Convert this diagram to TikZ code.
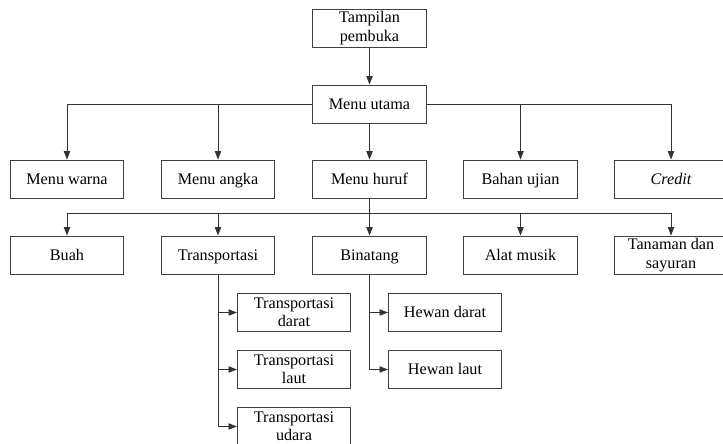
\documentclass[tikz,border=0pt]{standalone}
\usepackage{fontspec}
\setmainfont{Liberation Serif}
\usepackage{tikz}
\usetikzlibrary{positioning, arrows.meta}

\begin{document}
\begin{tikzpicture}[x=0.025cm, y=-0.025cm,
    dasar/.style={draw=black!75, line width=0.6pt, minimum width=2.83cm, minimum height=0.95cm,
        inner sep=0pt, align=center, font=\fontsize{11.5}{13}\selectfont},
    kotak/.style={dasar, text height=10pt, text depth=2.4pt},
    dua/.style={dasar},
    panah/.style={-{Triangle[length=6pt,width=4.5pt]}, line width=0.6pt, draw=black!80},
    garis/.style={line width=0.6pt, draw=black!80}]
    \useasboundingbox (0,0) rectangle (723,444);

    % atas
    \node[dua] (tampilan) at (369.5,28) {Tampilan\\pembuka};
    \node[kotak] (utama) at (369.5,104) {Menu utama};

    % baris menu
    \node[kotak] (warna) at (67,179) {Menu warna};
    \node[kotak] (angka) at (218,179) {Menu angka};
    \node[kotak] (huruf) at (369.5,179) {Menu huruf};
    \node[kotak] (bahan) at (520.5,179) {Bahan ujian};
    \node[kotak] (credit) at (671,179) {\itshape Credit};

    % baris huruf
    \node[kotak] (buah) at (67,255) {Buah};
    \node[kotak] (transportasi) at (218,255) {Transportasi};
    \node[kotak] (binatang) at (369.5,255) {Binatang};
    \node[kotak] (alat) at (520.5,255) {Alat musik};
    \node[dua] (tanaman) at (671,255) {Tanaman dan\\sayuran};
    \coordinate (cabang) at (369.5,213);

    % sub
    \node[dua] (darat) at (294,312.5) {Transportasi\\darat};
    \node[dua] (laut) at (294,369.5) {Transportasi\\laut};
    \node[dua] (udara) at (294,426.5) {Transportasi\\udara};
    \node[kotak] (hdarat) at (445,312.5) {Hewan darat};
    \node[kotak] (hlaut) at (445,369.5) {Hewan laut};

    \draw[panah] (tampilan) -- (utama);
    \draw[panah] (utama.west) -| (warna);
    \draw[panah] (utama.west) -| (angka);
    \draw[panah] (utama) -- (huruf);
    \draw[panah] (utama.east) -| (bahan);
    \draw[panah] (utama.east) -| (credit);

    \draw[garis] (huruf) -- (cabang);
    \draw[panah] (cabang) -| (buah);
    \draw[panah] (cabang) -| (transportasi);
    \draw[panah] (cabang) -- (binatang);
    \draw[panah] (cabang) -| (alat);
    \draw[panah] (cabang) -| (tanaman);

    \draw[panah] (transportasi.south) |- (darat);
    \draw[panah] (transportasi.south) |- (laut);
    \draw[panah] (transportasi.south) |- (udara);
    \draw[panah] (binatang.south) |- (hdarat);
    \draw[panah] (binatang.south) |- (hlaut);
\end{tikzpicture}
\end{document}
